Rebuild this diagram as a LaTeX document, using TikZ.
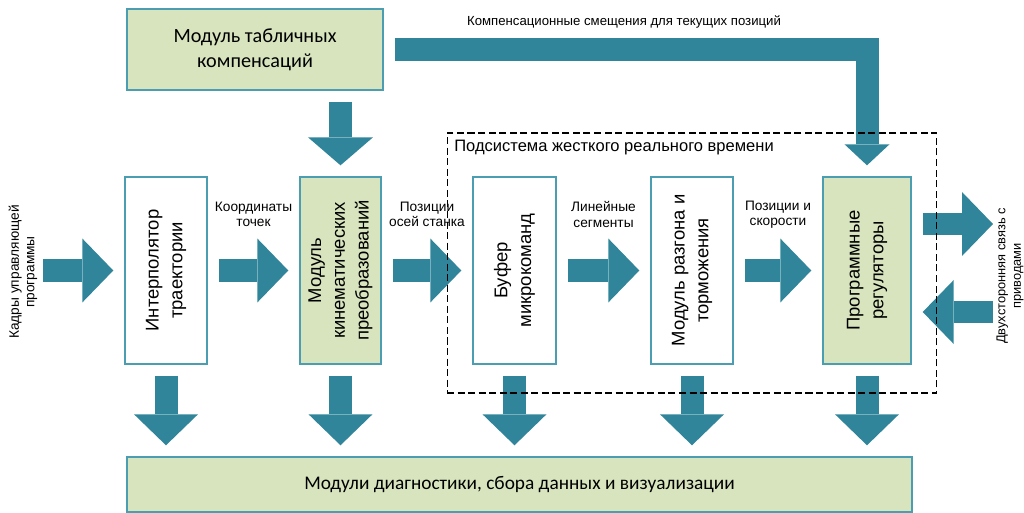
\documentclass[tikz,border=0pt]{standalone}
\usepackage{fontspec}
\setmainfont{Liberation Sans}
\newfontfamily\calibrifont{Carlito}
\usetikzlibrary{arrows.meta}
\definecolor{arrowteal}{RGB}{49,133,155}
\definecolor{boxline}{RGB}{75,158,178}
\definecolor{modgreen}{RGB}{215,228,189}

\begin{document}
\begin{tikzpicture}[x=0.02cm, y=-0.02cm,
    modbox/.style={draw=boxline, line width=0.8pt, minimum width=1.64cm, minimum height=3.74cm, inner sep=0pt},
    greenbox/.style={modbox, fill=modgreen},
    vtext/.style={rotate=90, align=center, font=\fontsize{10.5}{13.5}\selectfont},
    flowlabel/.style={text=black, align=center, font=\fontsize{7.8}{8.8}\selectfont},
    blockarrow/.style={arrowteal, line width=0.46cm, shorten <=0.22cm, shorten >=0.22cm,
      -{Triangle[length=0.62cm, width=1.28cm, line width=0pt]}}
  ]
    \useasboundingbox (0,0) rectangle (1024,513);

    % Modules
    \node[greenbox, minimum width=5.12cm, minimum height=1.62cm, align=center,
      font=\calibrifont\fontsize{11.5}{14}\selectfont] (comp) at (255,49.5) {Модуль табличных\\компенсаций};
    \node[modbox] (interp) at (166,270.5) {};
    \node[greenbox, minimum width=1.62cm] (kin) at (340.5,270.5) {};
    \node[modbox, minimum width=1.66cm] (buf) at (514.5,270.5) {};
    \node[modbox] (acc) at (692,270.5) {};
    \node[greenbox, minimum width=1.76cm] (reg) at (867,270.5) {};
    \node[greenbox, minimum width=15.7cm, minimum height=1.1cm,
      font=\calibrifont\fontsize{11}{13}\selectfont] (diag) at (519.5,484.5) {Модули диагностики, сбора данных и визуализации};

    \node[vtext] at (interp) {Интерполятор\\траектории};
    \node[vtext] at (kin) {Модуль\\кинематических\\преобразований};
    \node[vtext] at (buf) {Буфер\\микрокоманд};
    \node[vtext] at (acc) {Модуль разгона и\\торможения};
    \node[vtext] at (reg) {Программные\\регуляторы};

    % Free ends
    \coordinate (prog) at (43,270.5);
    \coordinate (drvout) at (993,224);
    \coordinate (drvin) at (993,312);

    % Main flow
    \draw[blockarrow, shorten <=0pt] (prog) -- (interp);
    \draw[blockarrow] (interp) -- node[flowlabel, yshift=1.12cm] {Координаты\\точек} (kin);
    \draw[blockarrow] (kin) -- node[flowlabel, yshift=1.12cm] {Позиции\\осей станка} (buf);
    \draw[blockarrow] (buf) -- node[flowlabel, yshift=1.12cm] {Линейные\\сегменты} (acc);
    \draw[blockarrow] (acc) -- node[flowlabel, yshift=1.12cm] {Позиции и\\скорости} (reg);
    \draw[blockarrow, line width=0.44cm, shorten >=0pt] (reg.east |- drvout) -- (drvout);
    \draw[blockarrow, line width=0.44cm, shorten <=0pt] (drvin) -- (reg.east |- drvin);

    % Compensation
    \draw[blockarrow, -{Triangle[length=0.56cm, width=1.3cm, line width=0pt]}] (comp.south -| kin) -- (kin);
    \draw[blockarrow, -{Triangle[length=0.42cm, width=0.9cm, line width=0pt]}] (comp) -| (reg);

    % Diagnostics
    \foreach \m in {interp, kin, buf, acc, reg}
      \draw[blockarrow] (\m) -- (\m |- diag.north);

    % Labels
    \node[flowlabel, rotate=90] at (23,272) {Кадры управляющей\\программы};
    \node[flowlabel, rotate=90, font=\fontsize{7.3}{8.8}\selectfont] at (1010,276) {Двухсторонняя связь с\\приводами};
    \node[flowlabel, font=\fontsize{7.5}{8.8}\selectfont] at (624,22) {Компенсационные смещения для текущих позиций};

    % Real-time subsystem
    \node[draw, line width=0.6pt, dash pattern=on 4pt off 2pt, minimum width=9.8cm, minimum height=5.2cm] (rt) at (692,263) {};
    \node[anchor=west, inner sep=0pt, font=\fontsize{9.4}{11}\selectfont] at (454,148) {Подсистема жесткого реального времени};
\end{tikzpicture}
\end{document}
